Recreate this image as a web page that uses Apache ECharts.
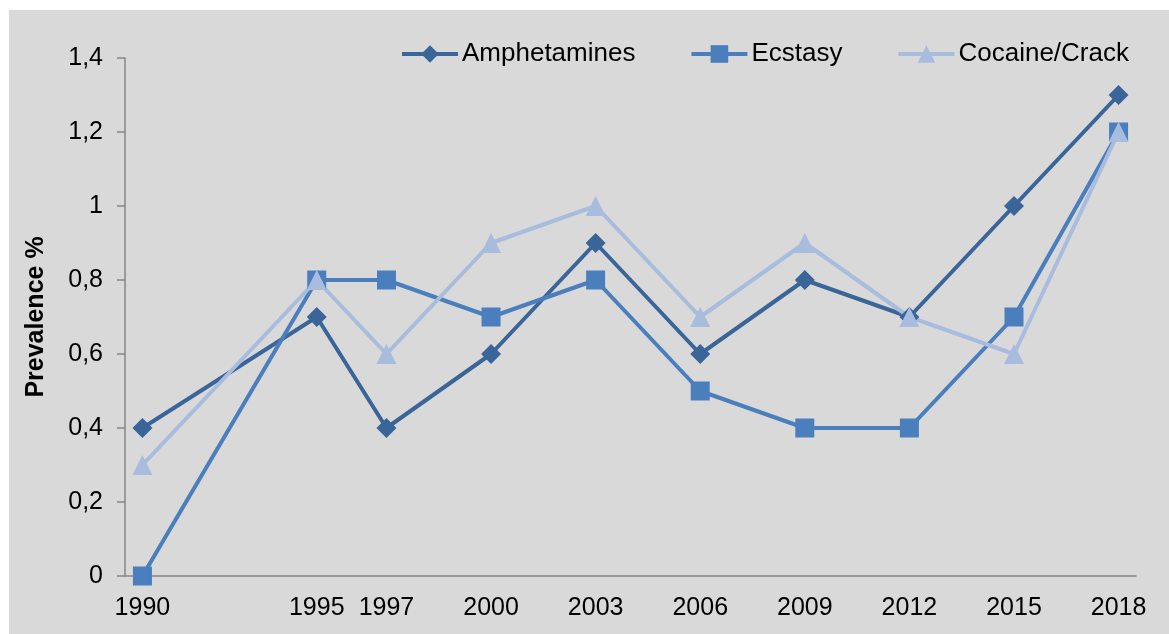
<!DOCTYPE html>
<html>
<head>
<meta charset="utf-8">
<script src="https://cdn.jsdelivr.net/npm/echarts@6/dist/echarts.min.js"></script>
<style>
  html, body { margin: 0; padding: 0; background: #ffffff; }
  #chart { position: absolute; left: 9px; top: 10px; width: 1160px; height: 624px; background: #d9d9d9; }
</style>
</head>
<body>
<div id="chart"></div>
<script>
// Survey years and prevalence (%) per substance
const surveyYears = [1990, 1995, 1997, 2000, 2003, 2006, 2009, 2012, 2015, 2018];
const amphetamines = [0.4, 0.7, 0.4, 0.6, 0.9, 0.6, 0.8, 0.7, 1.0, 1.3];
const ecstasy      = [0.0, 0.8, 0.8, 0.7, 0.8, 0.5, 0.4, 0.4, 0.7, 1.2];
const cocaineCrack = [0.3, 0.8, 0.6, 0.9, 1.0, 0.7, 0.9, 0.7, 0.6, 1.2];
const yTicks = [0, 0.2, 0.4, 0.6, 0.8, 1.0, 1.2, 1.4];

// Date-style axis: one slot per calendar year, only survey years carry values
const firstYear = surveyYears[0];
const lastYear = surveyYears[surveyYears.length - 1];
const allYears = [];
for (let y = firstYear; y <= lastYear; y++) allYears.push(String(y));

function spread(values) {
  return allYears.map(y => {
    const i = surveyYears.indexOf(Number(y));
    return i >= 0 ? values[i] : null;
  });
}

const FONT = '"Liberation Sans", Arial, sans-serif';
const AXIS_GREY = '#868686';

const chart = echarts.init(document.getElementById('chart'), null, { renderer: 'canvas' });

const lineSeries = (name, values, color, symbol, size) => ({
  name: name,
  type: 'line',
  data: spread(values),
  connectNulls: true,
  symbol: symbol,
  symbolSize: size,
  showAllSymbol: true,
  lineStyle: { color: color, width: 4 },
  itemStyle: { color: color },
  emphasis: { disabled: true },
  animation: false
});

chart.setOption({
  backgroundColor: '#d9d9d9',
  animation: false,
  grid: { left: 116, right: 33, top: 48, bottom: 58, containLabel: false },
  legend: {
    left: 386,
    top: 26,
    itemWidth: 56,
    itemHeight: 22,
    itemGap: 54,
    lineStyle: { width: 4 },
    textStyle: { fontFamily: FONT, fontSize: 26, color: '#000000', padding: [0, 0, 0, -1] },
    data: ['Amphetamines', 'Ecstasy', 'Cocaine/Crack']
  },
  xAxis: {
    type: 'category',
    data: allYears,
    boundaryGap: true,
    axisLine: { lineStyle: { color: AXIS_GREY, width: 1.5 } },
    axisTick: { interval: 0, length: 8, lineStyle: { color: AXIS_GREY, width: 1.5 } },
    axisLabel: {
      interval: (idx, val) => surveyYears.indexOf(Number(val)) >= 0,
      margin: 20,
      fontFamily: FONT,
      fontSize: 25,
      color: '#000000'
    },
    splitLine: { show: false }
  },
  yAxis: {
    type: 'value',
    min: yTicks[0],
    max: yTicks[yTicks.length - 1],
    interval: 0.2,
    name: 'Prevalence %',
    nameLocation: 'middle',
    nameGap: 76,
    nameTextStyle: { fontFamily: FONT, fontSize: 25, fontWeight: 'bold', color: '#000000' },
    axisLine: { show: true, lineStyle: { color: AXIS_GREY, width: 1.5 } },
    axisTick: { show: true, length: 8, lineStyle: { color: AXIS_GREY, width: 1.5 } },
    axisLabel: {
      margin: 22,
      fontFamily: FONT,
      fontSize: 25,
      color: '#000000',
      formatter: v => String(Math.round(v * 10) / 10).replace('.', ',')
    },
    splitLine: { show: false }
  },
  series: [
    lineSeries('Amphetamines', amphetamines, '#3a6599', 'diamond', 20),
    lineSeries('Ecstasy', ecstasy, '#4a7ebd', 'rect', 19),
    lineSeries('Cocaine/Crack', cocaineCrack, '#a8bcde', 'triangle', 20)
  ]
});
</script>
</body>
</html>
